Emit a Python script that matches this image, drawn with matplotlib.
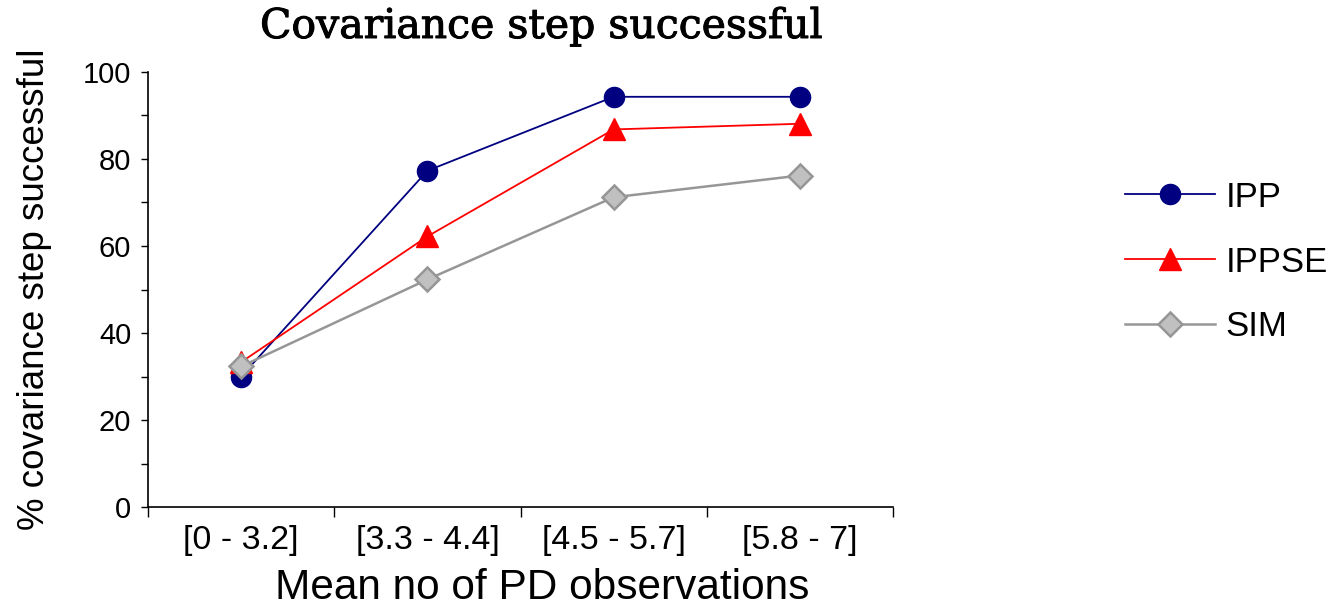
import matplotlib
matplotlib.use("Agg")
import matplotlib.pyplot as plt
import matplotlib.patheffects as pe
from matplotlib.ticker import MultipleLocator, FixedLocator, FixedFormatter
import numpy as np

# mean number of PD observations per subject, binned
bins = ["[0 - 3.2]", "[3.3 - 4.4]", "[4.5 - 5.7]", "[5.8 - 7]"]

# % of runs where the covariance step completed
ipp = [30, 77.3, 94.3, 94.3]
ippse = [33.3, 62.2, 86.8, 88.1]
sim = [32.3, 52.3, 71.2, 76.2]

plt.rcParams["font.family"] = ["Liberation Sans", "DejaVu Sans"]

W, H = 1338, 614
fig = plt.figure(figsize=(W / 100, H / 100), dpi=100)
ax = fig.add_axes([148 / W, 1 - 507 / H, (893 - 148) / W, (507 - 72) / H])

x = np.arange(len(bins))
ax.plot(x, ipp, color="#000080", lw=1.3, marker="o", ms=14.5,
        mfc="#000080", mec="#000080", label="IPP", zorder=3)
ax.plot(x, ippse, color="#FF0000", lw=1.3, marker="^", ms=16,
        mfc="#FF0000", mec="#FF0000", label="IPPSE", zorder=4)
ax.plot(x, sim, color="#969696", lw=1.8, marker="D", ms=12,
        mfc="#C0C0C0", mec="#969696", mew=1.8, label="SIM", zorder=5)

ax.set_xlim(-0.5, len(bins) - 0.5)
ax.set_ylim(0, 100)

# category boundaries get the tick marks, labels sit in between
ax.xaxis.set_major_locator(FixedLocator(np.arange(len(bins) + 1) - 0.5))
ax.xaxis.set_major_formatter(FixedFormatter([""] * (len(bins) + 1)))
ax.xaxis.set_minor_locator(FixedLocator(x))
ax.xaxis.set_minor_formatter(FixedFormatter(bins))
ax.tick_params(axis="x", which="major", length=7, width=1, direction="out")
ax.tick_params(axis="x", which="minor", length=0, labelsize=24.5, pad=13)

ax.yaxis.set_major_locator(MultipleLocator(20))
ax.yaxis.set_minor_locator(MultipleLocator(10))
ax.tick_params(axis="y", which="major", length=5, width=1, labelsize=21, pad=7)
ax.tick_params(axis="y", which="minor", length=5, width=1)

for side in ("top", "right"):
    ax.spines[side].set_visible(False)
for side in ("left", "bottom"):
    ax.spines[side].set_linewidth(1.2)

ax.set_xlabel("Mean no of PD observations", fontsize=30.5)
ax.xaxis.set_label_coords((542 - 148) / (893 - 148), -0.14)
ax.set_ylabel("% covariance step successful", fontsize=26.5, labelpad=22)
fig.text(541 / W, 1 - 38 / H, "Covariance step successful", fontsize=29.5,
         family="DejaVu Serif", ha="center", va="baseline",
         path_effects=[pe.withStroke(linewidth=0.7, foreground="black")])

fig.legend(loc="center left", bbox_to_anchor=(1125 / W, 1 - 262 / H),
           frameon=False, fontsize=25, borderpad=0, borderaxespad=0,
           handlelength=2.6, handletextpad=0.3, labelspacing=0.92)

fig.savefig("out.png", dpi=100)
